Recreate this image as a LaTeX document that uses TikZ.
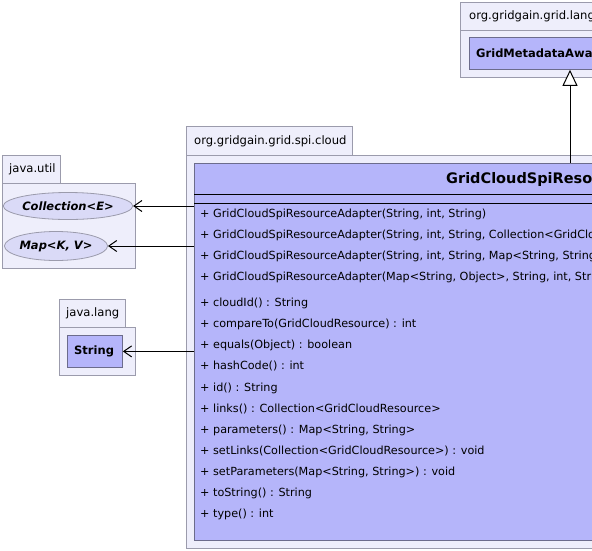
\documentclass[tikz,border=0pt]{standalone}
\usepackage{fontspec}
\setmainfont{DejaVu Sans}
\usetikzlibrary{arrows.meta,shapes.geometric}
\definecolor{pkgfill}{RGB}{238,238,251}
\definecolor{pkgline}{RGB}{155,155,172}
\definecolor{clsfill}{RGB}{181,181,250}
\definecolor{clsline}{RGB}{108,108,140}
\definecolor{ifcfill}{RGB}{218,218,247}
\begin{document}
\begin{tikzpicture}[x=1pt, y=-1pt,
    pkg/.style={draw=pkgline, fill=pkgfill, line width=.8pt, inner sep=0pt, anchor=north west},
    pkgname/.style={inner sep=0pt, anchor=west, font=\fontsize{11.6}{13}\selectfont},
    cls/.style={draw=clsline, fill=clsfill, line width=.8pt, inner sep=0pt, anchor=north west},
    clsname/.style={inner sep=0pt, anchor=west, font=\bfseries\fontsize{11.5}{13}\selectfont},
    ifc/.style={ellipse, draw=pkgline, fill=ifcfill, line width=.8pt, inner sep=0pt,
      font=\bfseries\itshape\fontsize{11.5}{13}\selectfont},
    member/.style={inner sep=0pt, anchor=west, font=\fontsize{11.2}{13}\selectfont},
    dep/.style={-{Straight Barb[length=8pt, width=11pt, line width=1pt]}, line width=1pt},
    realize/.style={-{Triangle[open, length=16pt, width=15pt, fill=white]}, line width=1pt}]
  \useasboundingbox (0,0) rectangle (592,550);
  \clip (0,0) rectangle (592,550);

  % packages
  \node[pkg, minimum width=160, minimum height=28] (langTab) at (460,2) {};
  \node[pkg, minimum width=160, minimum height=47] (langPkg) at (460,30) {};
  \node[pkgname] at (469,16) {org.gridgain.grid.lang};
  \node[pkg, minimum width=166, minimum height=29] (cloudTab) at (186,126) {};
  \node[pkg, minimum width=500, minimum height=393] (cloudPkg) at (186,155) {};
  \node[pkgname] at (194,141) {org.gridgain.grid.spi.cloud};
  \node[pkg, minimum width=58, minimum height=28] (utilTab) at (2,155) {};
  \node[pkg, minimum width=133, minimum height=85] (utilPkg) at (2,183) {};
  \node[pkgname] at (9,169) {java.util};
  \node[pkg, minimum width=66, minimum height=28] (jlangTab) at (59,299) {};
  \node[pkg, minimum width=76, minimum height=48] (jlangPkg) at (59,327) {};
  \node[pkgname] at (66,313) {java.lang};

  % classes
  \node[cls, minimum width=160, minimum height=32] (meta) at (469,37) {};
  \node[clsname] at (476,53) {GridMetadataAware};
  \node[cls, minimum width=55, minimum height=32] (string) at (67,335) {};
  \node[clsname] at (74,351) {String};
  \node[ifc, minimum width=118, minimum height=27] (coll) at (68,206) {Collection<E>};
  \node[ifc, minimum width=94, minimum height=29] (map) at (56,246) {Map<K, V>};

  \node[cls, minimum width=490, minimum height=377] (adapter) at (194,163) {};
  \node[inner sep=0pt, anchor=west, font=\bfseries\fontsize{14.5}{16}\selectfont] at (446,179)
    {GridCloudSpiResourceAdapter};
  \draw[line width=1pt] (194,194) -- (684,194);
  \draw[line width=1pt] (194,203) -- (684,203);
  \node[member] (m1) at (200,214) {+ GridCloudSpiResourceAdapter(String, int, String)};
  \node[member] (m2) at (200,235) {+ GridCloudSpiResourceAdapter(String, int, String, Collection<GridCloudResource>)};
  \node[member] (m3) at (200,256) {+ GridCloudSpiResourceAdapter(String, int, String, Map<String, String>)};
  \node[member] (m4) at (200,277) {+ GridCloudSpiResourceAdapter(Map<String, Object>, String, int, String)};
  \node[member] (m5) at (200,303) {+ cloudId() : String};
  \node[member] (m6) at (200,324) {+ compareTo(GridCloudResource) : int};
  \node[member] (m7) at (200,345) {+ equals(Object) : boolean};
  \node[member] (m8) at (200,366) {+ hashCode() : int};
  \node[member] (m9) at (200,388) {+ id() : String};
  \node[member] (m10) at (200,409) {+ links() : Collection<GridCloudResource>};
  \node[member] (m11) at (200,430) {+ parameters() : Map<String, String>};
  \node[member] (m12) at (200,451) {+ setLinks(Collection<GridCloudResource>) : void};
  \node[member] (m13) at (200,472) {+ setParameters(Map<String, String>) : void};
  \node[member] (m14) at (200,493) {+ toString() : String};
  \node[member] (m15) at (200,514) {+ type() : int};

  % relations
  \coordinate (realFrom) at (570,163);
  \draw[realize] (realFrom) -- (realFrom |- meta.south);
  \draw[dep] (adapter.west |- coll.east) -- (coll.east);
  \draw[dep] (adapter.west |- map.east) -- (map.east);
  \draw[dep] (adapter.west |- string.east) -- (string.east);
\end{tikzpicture}
\end{document}
